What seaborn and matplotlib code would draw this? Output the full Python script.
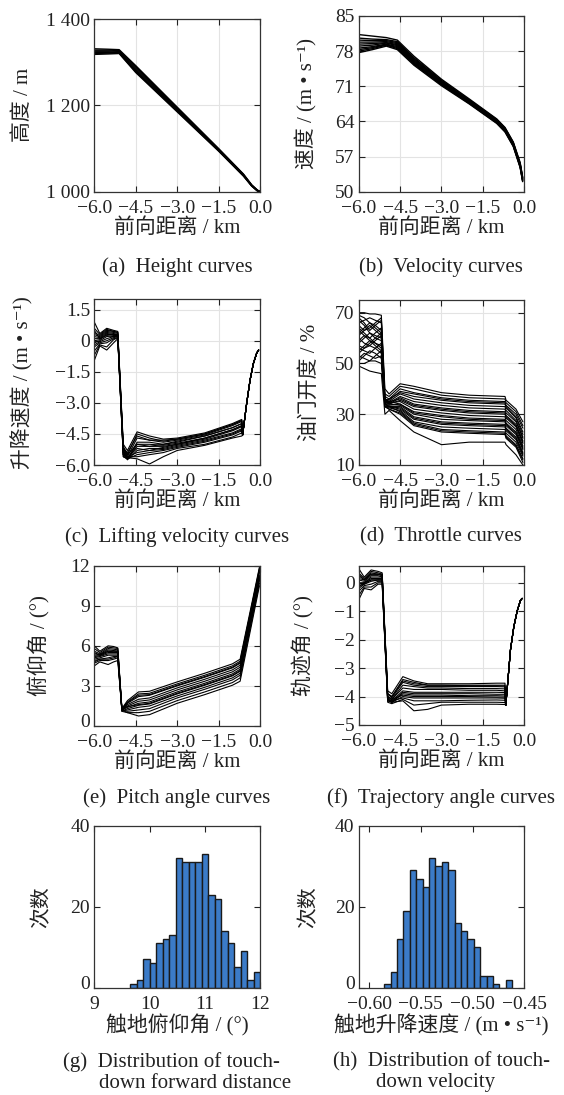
import numpy as np
import pandas as pd
import matplotlib
matplotlib.use("Agg")
import matplotlib.pyplot as plt
from matplotlib.transforms import ScaledTranslation
import seaborn as sns

# %%
# fonts / style
sns.set_style("ticks")
plt.rcParams["font.family"] = ["Liberation Serif", "Noto Sans CJK SC", "DejaVu Serif"]
plt.rcParams["axes.unicode_minus"] = True

W, H = 564, 1095

# %%
# (a) height curves
x_a = [-6.0, -5.5, -5.1, -4.5, -3.0, -1.5, -0.6, -0.3, -0.1, 0.0]
height_curves = [
    [1331, 1330, 1329, 1292, 1196, 1100, 1041, 1016, 1004, 1000],
    [1328, 1328, 1327, 1289, 1194, 1099, 1040, 1015, 1004, 1000],
    [1326, 1326, 1325, 1286, 1192, 1098, 1039, 1015, 1003, 1000],
    [1324, 1324, 1323, 1283, 1190, 1097, 1038, 1014, 1003, 1000],
    [1322, 1322, 1322, 1280, 1188, 1096, 1038, 1014, 1003, 1000],
    [1320, 1321, 1321, 1278, 1187, 1095, 1037, 1013, 1002, 1000],
    [1318, 1319, 1320, 1276, 1185, 1094, 1036, 1013, 1002, 1000],
]

# (b) velocity curves
x_b = [-6.0, -5.5, -5.0, -4.6, -4.0, -3.0, -2.0, -1.0, -0.7, -0.4, -0.15, -0.06]
velocity_curves = [
    [81.3, 81.0, 80.7, 80.2, 77.0, 72.4, 68.5, 64.5, 62.8, 59.9, 55.8, 52.9],
    [80.6, 80.4, 80.3, 79.9, 76.7, 72.2, 68.3, 64.4, 62.7, 59.8, 55.6, 52.8],
    [80.2, 80.1, 80.1, 79.7, 76.5, 72.0, 68.2, 64.3, 62.6, 59.7, 55.5, 52.7],
    [79.8, 79.8, 79.9, 79.5, 76.3, 71.9, 68.1, 64.2, 62.5, 59.6, 55.4, 52.6],
    [79.4, 79.5, 79.7, 79.3, 76.1, 71.8, 68.0, 64.1, 62.4, 59.5, 55.3, 52.5],
    [79.0, 79.2, 79.6, 79.1, 75.9, 71.6, 67.9, 64.0, 62.3, 59.4, 55.2, 52.4],
    [78.6, 78.9, 79.4, 78.9, 75.7, 71.5, 67.8, 63.9, 62.2, 59.3, 55.1, 52.3],
    [78.3, 78.7, 79.3, 78.7, 75.6, 71.4, 67.7, 63.8, 62.1, 59.2, 55.0, 52.2],
    [78.0, 78.5, 79.2, 78.5, 75.4, 71.3, 67.6, 63.7, 62.0, 59.1, 54.9, 52.1],
    [77.7, 78.3, 79.0, 78.3, 75.2, 71.1, 67.5, 63.6, 61.9, 59.0, 54.8, 52.0],
]

# (c) lifting velocity curves
x_c = [-6.0, -5.8, -5.55, -5.3, -5.15, -4.95, -4.8, -4.45, -4.0, -3.5, -3.0, -2.0, -1.0, -0.66]
lift_curves = [
    [0.9, 0.35, 0.6, 0.5, 0.45, -5.0, -5.3, -4.4, -4.6, -4.75, -4.7, -4.45, -4.0, -3.8],
    [0.6, 0.3, 0.55, 0.45, 0.4, -5.1, -5.5, -4.5, -4.7, -4.85, -4.75, -4.5, -4.05, -3.85],
    [0.4, 0.25, 0.5, 0.45, 0.4, -5.2, -5.6, -4.7, -4.8, -4.9, -4.8, -4.55, -4.1, -3.9],
    [0.3, 0.2, 0.45, 0.4, 0.35, -5.3, -5.7, -4.9, -4.9, -5.0, -4.9, -4.6, -4.2, -4.0],
    [0.2, 0.15, 0.4, 0.35, 0.3, -5.2, -5.5, -5.0, -5.0, -5.05, -4.95, -4.7, -4.3, -4.1],
    [0.1, 0.1, 0.35, 0.3, 0.3, -5.4, -5.7, -5.1, -5.1, -5.1, -5.0, -4.75, -4.35, -4.15],
    [0.0, 0.05, 0.3, 0.3, 0.25, -5.5, -5.75, -5.3, -5.2, -5.2, -5.05, -4.8, -4.45, -4.25],
    [-0.1, 0.0, 0.2, 0.25, 0.25, -5.3, -5.6, -5.4, -5.3, -5.25, -5.1, -4.85, -4.5, -4.3],
    [-0.2, -0.05, 0.1, 0.2, 0.2, -5.6, -5.7, -5.5, -5.4, -5.3, -5.15, -4.9, -4.55, -4.35],
    [-0.3, -0.1, 0.0, 0.15, 0.2, -5.4, -5.6, -5.6, -5.5, -5.4, -5.2, -5.0, -4.65, -4.45],
    [-0.5, -0.15, -0.1, 0.1, 0.15, -5.5, -5.65, -5.2, -5.3, -5.15, -5.0, -4.7, -4.3, -4.1],
    [-0.7, -0.2, -0.3, 0.05, 0.15, -5.6, -5.7, -5.0, -5.1, -5.0, -4.85, -4.6, -4.2, -4.0],
    [-0.95, -0.25, -0.45, -0.1, 0.1, -5.5, -5.65, -5.7, -5.95, -5.6, -5.3, -5.05, -4.7, -4.6],
    [0.5, 0.1, 0.25, 0.2, 0.2, -5.2, -5.4, -4.6, -4.8, -4.8, -4.75, -4.5, -4.05, -3.85],
]
lift_tail_x = [-0.63, -0.48, -0.36, -0.24, -0.12, -0.05]
lift_tail_y = [-4.55, -3.0, -1.9, -1.1, -0.6, -0.45]

# (d) throttle curves
x_d = [-6.0, -5.8, -5.6, -5.4, -5.18, -5.05, -4.9, -4.5, -4.0, -3.0, -2.0, -0.7, -0.66, -0.3, -0.05]
throttle_curves = [
    [70, 70, 69.5, 69.5, 69, 40, 38, 42, 41, 38.5, 37.5, 37, 35.5, 32, 27],
    [68, 66, 63, 65, 67, 38, 37, 41, 40, 37.5, 36.5, 36, 34.5, 31, 25.5],
    [66, 67, 68, 67, 66, 37, 36, 40, 38.5, 36.5, 35.5, 35, 33.5, 30, 24.5],
    [64, 62, 60, 62, 64, 36, 35.5, 39, 38, 36, 35, 34.5, 33, 29, 23],
    [62, 64, 66, 65, 63, 35, 36, 38.5, 37, 35.5, 34.5, 34, 32.5, 28.5, 22],
    [60, 58, 57, 59, 61, 35, 35, 38, 36, 34.5, 33.5, 33, 31.5, 27.5, 21],
    [58, 60, 62, 61, 60, 36, 34.5, 37, 35, 33.5, 32.5, 32, 30.5, 27, 20.5],
    [56, 55, 54, 56, 58, 35, 34, 36.5, 34, 32.5, 31.5, 31, 29.5, 26, 19.5],
    [55, 57, 59, 58, 57, 34, 35, 36, 33.5, 32, 31, 30.5, 29, 25.5, 19],
    [53, 52, 51, 53, 55, 34, 34, 35.5, 33, 31.5, 30.5, 30, 28.5, 25, 18.5],
    [51, 53, 55, 54, 52, 35, 34.5, 35, 32, 30.5, 29.5, 29, 27.5, 24, 17.5],
    [50, 50, 51, 51, 50, 34, 33.5, 34, 31, 29.5, 28.5, 28, 26.5, 23, 17],
    [69, 68, 66, 64, 62, 36, 35, 34, 30.5, 29, 28, 27.5, 26, 22.5, 16.5],
    [65, 63, 64, 66, 68, 35, 34, 33.5, 30, 28, 27.5, 27, 25.5, 22, 16],
    [61, 63, 65, 63, 61, 34, 33, 33, 29, 27, 26.5, 26, 24.5, 21, 15],
    [57, 56, 58, 60, 62, 33, 33, 32.5, 28.5, 26.5, 26, 25.5, 24, 20.5, 14.5],
    [54, 56, 57, 56, 54, 34, 33, 32, 28, 26, 25.5, 25, 23.5, 20, 14],
    [52, 54, 53, 52, 53, 33, 32.5, 31.5, 27, 25, 24.5, 24, 22.5, 19, 13.5],
    [67, 65, 62, 60, 59, 34, 33, 31, 26.5, 24, 23.5, 23, 21.5, 18, 12.5],
    [59, 61, 60, 58, 56, 33, 32, 30.5, 26, 23.5, 23, 22.5, 21, 17.5, 12],
    [63, 61, 59, 57, 55, 33, 32, 30, 25.5, 23, 22.5, 22, 20.5, 17, 11],
    [49, 48, 47, 46.5, 46, 30, 31.5, 27.5, 23, 18, 19, 19, 18, 14, 10],
]

# (e) pitch angle curves
x_e = [-6.0, -5.8, -5.5, -5.3, -5.15, -5.0, -4.8, -4.4, -4.0, -3.0, -2.0, -1.0, -0.72, -0.02]
pitch_curves = [
    [6.0, 5.6, 6.0, 5.95, 5.85, 1.3, 1.9, 2.55, 2.6, 3.3, 3.95, 4.65, 5.0, 11.9],
    [5.8, 5.5, 5.9, 5.85, 5.8, 1.25, 1.8, 2.4, 2.45, 3.15, 3.8, 4.5, 4.85, 11.7],
    [5.6, 5.4, 5.8, 5.75, 5.7, 1.2, 1.7, 2.2, 2.3, 3.0, 3.65, 4.35, 4.7, 11.6],
    [5.4, 5.35, 5.7, 5.65, 5.6, 1.2, 1.6, 2.0, 2.1, 2.85, 3.5, 4.2, 4.55, 11.5],
    [5.3, 5.3, 5.6, 5.55, 5.55, 1.15, 1.5, 1.85, 1.95, 2.7, 3.35, 4.05, 4.4, 11.3],
    [5.2, 5.25, 5.5, 5.5, 5.5, 1.2, 1.4, 1.7, 1.8, 2.55, 3.2, 3.9, 4.25, 11.2],
    [5.1, 5.2, 5.4, 5.4, 5.4, 1.1, 1.3, 1.55, 1.65, 2.4, 3.05, 3.75, 4.1, 11.1],
    [5.0, 5.1, 5.3, 5.3, 5.3, 1.15, 1.2, 1.4, 1.5, 2.25, 2.9, 3.6, 3.95, 11.0],
    [4.9, 5.0, 5.1, 5.2, 5.2, 1.2, 1.1, 1.2, 1.3, 2.1, 2.75, 3.45, 3.8, 10.9],
    [4.7, 4.9, 4.9, 5.0, 5.1, 1.1, 1.0, 1.0, 1.1, 1.9, 2.55, 3.25, 3.6, 10.7],
    [4.5, 4.8, 4.6, 4.8, 4.9, 1.2, 1.0, 0.75, 0.85, 1.7, 2.35, 3.05, 3.35, 10.5],
    [5.5, 5.3, 5.6, 5.6, 5.6, 1.3, 1.75, 2.3, 2.35, 3.05, 3.7, 4.4, 4.75, 11.8],
    [4.8, 5.0, 5.0, 5.1, 5.2, 1.25, 1.45, 1.6, 1.7, 2.45, 3.1, 3.8, 4.15, 11.15],
]

# (f) trajectory angle curves
x_f = [-6.0, -5.8, -5.55, -5.3, -5.15, -4.95, -4.8, -4.4, -4.0, -3.5, -3.0, -2.0, -1.0, -0.7]
traj_curves = [
    [0.5, 0.2, 0.45, 0.4, 0.35, -3.8, -3.9, -3.3, -3.45, -3.55, -3.55, -3.55, -3.53, -3.53],
    [0.35, 0.15, 0.4, 0.35, 0.3, -3.9, -4.0, -3.4, -3.5, -3.6, -3.6, -3.6, -3.6, -3.6],
    [0.25, 0.1, 0.35, 0.3, 0.3, -3.9, -4.05, -3.5, -3.6, -3.65, -3.65, -3.65, -3.65, -3.66],
    [0.15, 0.1, 0.3, 0.3, 0.25, -4.0, -4.1, -3.6, -3.65, -3.7, -3.7, -3.72, -3.72, -3.73],
    [0.1, 0.05, 0.25, 0.25, 0.2, -4.0, -4.1, -3.7, -3.75, -3.75, -3.75, -3.78, -3.78, -3.8],
    [0.0, 0.0, 0.2, 0.2, 0.2, -4.05, -4.15, -3.8, -3.85, -3.85, -3.85, -3.85, -3.85, -3.86],
    [-0.05, 0.0, 0.15, 0.15, 0.15, -4.1, -4.2, -3.85, -3.9, -3.9, -3.9, -3.9, -3.92, -3.92],
    [-0.1, -0.05, 0.1, 0.1, 0.1, -4.1, -4.2, -3.9, -3.95, -3.95, -3.95, -3.97, -3.97, -3.98],
    [-0.2, -0.05, 0.05, 0.1, 0.1, -4.15, -4.2, -4.0, -4.05, -4.05, -4.05, -4.05, -4.05, -4.06],
    [-0.3, -0.1, -0.05, 0.05, 0.05, -4.1, -4.15, -4.05, -4.15, -4.15, -4.15, -4.13, -4.12, -4.13],
    [-0.45, -0.15, -0.15, 0.0, 0.0, -4.2, -4.25, -4.1, -4.3, -4.25, -4.2, -4.2, -4.2, -4.21],
    [-0.6, -0.2, -0.25, -0.05, -0.05, -4.15, -4.2, -4.15, -4.5, -4.45, -4.3, -4.27, -4.27, -4.28],
    [0.3, 0.1, 0.3, 0.3, 0.25, -3.9, -4.0, -3.45, -3.55, -3.6, -3.6, -3.62, -3.62, -3.63],
    [-0.15, 0.0, 0.1, 0.1, 0.1, -4.0, -4.1, -3.95, -4.0, -4.0, -4.0, -4.0, -4.02, -4.02],
]
traj_tail_x = [-0.67, -0.5, -0.38, -0.26, -0.14, -0.08]
traj_tail_y = [-4.3, -2.35, -1.55, -1.0, -0.62, -0.55]

# (g) touch-down pitch angle histogram
g_counts = [1, 2, 7, 6, 11, 12, 13, 32, 31, 31, 31, 33, 23, 22, 14, 11, 5, 9, 2, 4]
g_range = (9.648, 12.0)
# (h) touch-down vertical velocity histogram
h_counts = [1, 4, 12, 19, 29, 27, 25, 32, 30, 31, 29, 16, 14, 12, 10, 3, 3, 1, 0, 2]
h_range = (-0.5853, -0.4616)

dist_ticks = [-6.0, -4.5, -3.0, -1.5, 0.0]


# %%
def fmt(v, nd=1):
    return f"{v:.{nd}f}".replace("-", "\u2212")


def to_long(x, curves, tail_x=None, tail_y=None):
    parts = []
    for i, c in enumerate(curves):
        xs = list(x) + (list(tail_x) if tail_x else [])
        ys = list(c) + (list(tail_y) if tail_y else [])
        parts.append(pd.DataFrame({"x": xs, "y": ys, "run": i}))
    return pd.concat(parts, ignore_index=True)


def hist_frame(counts, rng):
    edges = np.linspace(rng[0], rng[1], len(counts) + 1)
    return pd.DataFrame({"v": (edges[:-1] + edges[1:]) / 2, "n": counts})


def px_axes(l, t, r, b):
    return fig.add_axes([l / W, 1 - b / H, (r - l) / W, (b - t) / H])


def style(ax, xlim, xticks, xlabels, ylim, yticks, ylabels, xlab, ylab, ylab_x,
          grid=True, lift_bottom=False):
    ax.set_xlim(xlim)
    ax.set_ylim(ylim)
    ax.set_xticks(xticks)
    ax.set_xticklabels(xlabels)
    ax.set_yticks(yticks)
    ax.set_yticklabels(ylabels)
    ax.tick_params(direction="in", top=True, right=True, length=4, width=0.8,
                   labelsize=14, colors="#222222")
    ax.tick_params(axis="x", pad=6)
    ax.tick_params(axis="y", pad=3)
    for s in ax.spines.values():
        s.set_visible(True)
        s.set_color("#333333")
        s.set_linewidth(0.9)
    if grid:
        ax.grid(True, color="#e3e3e3", lw=0.8)
    ax.set_axisbelow(True)
    ax.set_xlabel(xlab, fontsize=15, color="#222222", labelpad=1)
    ax.set_ylabel(ylab, fontsize=15, color="#222222")
    ax.yaxis.set_label_coords(ylab_x, 0.5)
    if lift_bottom:
        # nudge the lowest y tick label up a little so it clears the x labels
        lab = ax.yaxis.get_major_ticks()[0].label1
        lab.set_transform(lab.get_transform() + ScaledTranslation(0, 4 / 72, fig.dpi_scale_trans))


def curves_plot(ax, df, lw=0.8):
    sns.lineplot(data=df, x="x", y="y", units="run", estimator=None, sort=False,
                 color="black", lw=lw, ax=ax, legend=False)


def hist_plot(ax, counts, rng):
    sns.histplot(data=hist_frame(counts, rng), x="v", weights="n", bins=len(counts),
                 binrange=rng, color="#3b7bc8", edgecolor="#1a1a1a", linewidth=1.0,
                 alpha=1, ax=ax)


fig = plt.figure(figsize=(W / 100, H / 100), dpi=100)
xlab = "前向距离 / km"
xlabels = [fmt(v) for v in dist_ticks]

# (a)
ax = px_axes(94.3, 19, 260, 191.7)
curves_plot(ax, to_long(x_a, height_curves), lw=1.0)
style(ax, (-6, 0), dist_ticks, xlabels, (1000, 1400), [1000, 1200, 1400],
      ["1 000", "1 200", "1 400"], xlab, "高度 / m", -0.37)

# (b)
ax = px_axes(358.7, 16, 524.3, 191.7)
curves_plot(ax, to_long(x_b, velocity_curves), lw=1.0)
vt = [50, 57, 64, 71, 78, 85]
style(ax, (-6, 0), dist_ticks, xlabels, (50, 85), vt, [str(v) for v in vt],
      xlab, "速度 / (m • s⁻¹)", -0.25)

# (c)
ax = px_axes(94.3, 299.3, 260, 465)
curves_plot(ax, to_long(x_c, lift_curves, lift_tail_x, lift_tail_y))
lt = [-6.0, -4.5, -3.0, -1.5, 0.0, 1.5]
style(ax, (-6, 0), dist_ticks, xlabels, (-6, 2), lt,
      [fmt(v) if v != 0 else "0" for v in lt], xlab, "升降速度 / (m • s⁻¹)", -0.37)

# (d)
ax = px_axes(358.7, 300, 524.3, 465)
curves_plot(ax, to_long(x_d, throttle_curves))
tt = [10, 30, 50, 70]
style(ax, (-6, 0), dist_ticks, xlabels, (10, 75), tt, [str(v) for v in tt],
      xlab, "油门开度 / %", -0.235)

# (e)
ax = px_axes(94.3, 565.7, 260, 726)
curves_plot(ax, to_long(x_e, pitch_curves))
pt = [0, 3, 6, 9, 12]
style(ax, (-6, 0), dist_ticks, xlabels, (0, 12), pt, [str(v) for v in pt],
      xlab, "俯仰角 / (°)", -0.267, lift_bottom=True)

# (f)
ax = px_axes(358.7, 565.7, 524.3, 725)
curves_plot(ax, to_long(x_f, traj_curves, traj_tail_x, traj_tail_y))
ft = [-5, -4, -3, -2, -1, 0]
style(ax, (-6, 0), dist_ticks, xlabels, (-5, 0.6), ft,
      [str(v).replace("-", "\u2212") for v in ft], xlab, "轨迹角 / (°)", -0.264)

# (g)
ax = px_axes(94.3, 826, 260, 987.7)
hist_plot(ax, g_counts, g_range)
style(ax, (9, 12), [9, 10, 11, 12], ["9", "10", "11", "12"], (0, 40), [0, 20, 40],
      ["0", "20", "40"], "触地俯仰角 / (°)", "次数", -0.25, grid=False, lift_bottom=True)

# (h)
ax = px_axes(358.7, 826, 524.3, 987.7)
hist_plot(ax, h_counts, h_range)
ht = [-0.60, -0.55, -0.50, -0.45]
style(ax, (-0.61, -0.45), ht, [fmt(v, 2) for v in ht], (0, 40), [0, 20, 40],
      ["0", "20", "40"], "触地升降速度 / (m • s⁻¹)", "次数", -0.24, grid=False,
      lift_bottom=True)

# %%
# captions
cap = dict(fontsize=15, color="#222222", va="center")
fig.text(177 / W, 1 - 267 / H, "(a)  Height curves", ha="center", **cap)
fig.text(441 / W, 1 - 267 / H, "(b)  Velocity curves", ha="center", **cap)
fig.text(177 / W, 1 - 537 / H, "(c)  Lifting velocity curves", ha="center", **cap)
fig.text(441 / W, 1 - 537 / H, "(d)  Throttle curves", ha="center", **cap)
fig.text(177 / W, 1 - 798 / H, "(e)  Pitch angle curves", ha="center", **cap)
fig.text(441 / W, 1 - 798 / H, "(f)  Trajectory angle curves", ha="center", **cap)
fig.text(63 / W, 1 - 1062 / H, "(g)  Distribution of touch-", ha="left", **cap)
fig.text(99 / W, 1 - 1083 / H, "down forward distance", ha="left", **cap)
fig.text(333 / W, 1 - 1062 / H, "(h)  Distribution of touch-", ha="left", **cap)
fig.text(376 / W, 1 - 1083 / H, "down velocity", ha="left", **cap)

fig.savefig("out.png", dpi=100)
